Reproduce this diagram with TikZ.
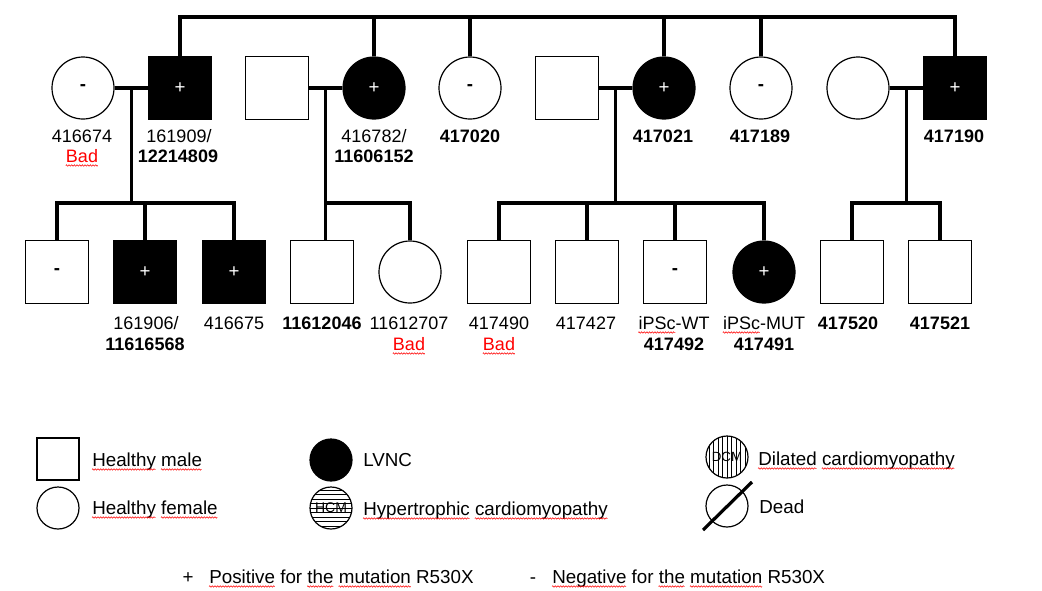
\documentclass[tikz,border=0pt]{standalone}
\usepackage{fontspec}
\setmainfont{Liberation Sans}
\usetikzlibrary{calc,decorations.pathmorphing}
\newcommand\labfont{\fontsize{13.5}{15}\selectfont}
\newcommand\legfont{\fontsize{14.1}{16}\selectfont}
\newsavebox\spbox
\newcommand\spellmark[1]{\sbox\spbox{#1}\usebox\spbox\llap{\tikz[baseline=2.6pt,x=1pt,y=1pt]\draw[red,line width=0.4pt,decorate,decoration={zigzag,segment length=2pt,amplitude=0.55pt}] (0,0) -- (\wd\spbox,0);}}
\begin{document}
\begin{tikzpicture}[x=0.75pt,y=-0.75pt,
 sym/.style={draw, line width=0.9pt, inner sep=0pt, font=\fontsize{14}{16}\selectfont},
 male/.style={sym, rectangle, minimum size=47.25pt},
 female/.style={sym, circle, minimum size=46.5pt},
 aff/.style={fill=black, text=white},
 lmale/.style={sym, rectangle, minimum size=31.5pt},
 lfemale/.style={sym, circle, minimum size=31.5pt},
 lab/.style={anchor=base, inner sep=0pt, font=\labfont},
 blab/.style={lab, font=\labfont\bfseries},
 bad/.style={lab, text=red},
 legtxt/.style={anchor=base west, inner sep=0pt, font=\legfont},
 legsign/.style={anchor=base, inner sep=0pt, font=\legfont},
 pline/.style={line width=2.6pt},
 hatch/.style={line width=0.6pt},
 ]
\useasboundingbox (0,0) rectangle (1042,590);
\coordinate (topy) at (0,17);
\coordinate (sy) at (0,203);
% top generation
\node[female] (a1) at (83,88) {\textbf{-}};
\node[male, aff] (a2) at (180,88) {+};
\node[male] (a3) at (277,88) {};
\node[female, aff] (a4) at (374,88) {+};
\node[female] (a5) at (470,88) {\textbf{-}};
\node[male] (a6) at (567,88) {};
\node[female, aff] (a7) at (664,88) {+};
\node[female] (a8) at (761,88) {\textbf{-}};
\node[female] (a9) at (858,88) {};
\node[male, aff] (a10) at (955,88) {+};
% bottom generation
\node[male] (b1) at (57,272) {\textbf{-}};
\node[male, aff] (b2) at (145,272) {+};
\node[male, aff] (b3) at (234,272) {+};
\node[male] (b4) at (322,272) {};
\node[female] (b5) at (410,272) {};
\node[male] (b6) at (499,272) {};
\node[male] (b7) at (587,272) {};
\node[male] (b8) at (675,272) {\textbf{-}};
\node[female, aff] (b9) at (764,272) {+};
\node[male] (b10) at (852,272) {};
\node[male] (b11) at (940,272) {};
% sibship of top generation
\draw[pline] (a2.north) |- (a10.north |- topy) -- (a10.north);
\foreach \n in {a4,a5,a7,a8} \draw[pline] (\n.north) -- (\n.north |- topy);
% couples
\draw[pline] (a1.east) -- (a2.west);
\draw[pline] (a3.east) -- (a4.west);
\draw[pline] (a6.east) -- (a7.west);
\draw[pline] (a9.east) -- (a10.west);
\coordinate (m1) at ($(a1.east)!0.5!(a2.west)$);
\coordinate (m2) at ($(a3.east)!0.5!(a4.west)$);
\coordinate (m3) at ($(a6.east)!0.5!(a7.west)$);
\coordinate (m4) at ($(a9.east)!0.5!(a10.west)$);
% family 1
\draw[pline] (m1) -- (m1 |- sy);
\draw[pline] (b1.north) |- (b3.north |- sy) -- (b3.north);
\draw[pline] (b2.north) -- (b2.north |- sy);
% family 2
\draw[pline] (m2) -- (m2 |- b4.north);
\draw[pline] (m2 |- sy) -| (b5.north);
% family 3
\draw[pline] (m3) -- (m3 |- sy);
\draw[pline] (b6.north) |- (b9.north |- sy) -- (b9.north);
\draw[pline] (b7.north) -- (b7.north |- sy);
\draw[pline] (b8.north) -- (b8.north |- sy);
% family 4
\draw[pline] (m4) -- (m4 |- sy);
\draw[pline] (b10.north) |- (b11.north |- sy) -- (b11.north);
% labels top
\node[lab] (la1) at (82,142) {416674};
\node[bad] (la1b) at (82,162) {\spellmark{Bad}};
\node[lab] (la2) at (179,142) {161909/};
\node[blab] (la2b) at (178,162) {12214809};
\node[lab] (la4) at (374,142) {416782/};
\node[blab] (la4b) at (374,162) {11606152};
\node[blab] (la5) at (470,142) {417020};
\node[blab] (la7) at (663,142) {417021};
\node[blab] (la8) at (760,142) {417189};
\node[blab] (la10) at (954,142) {417190};
% labels bottom
\node[lab] (lb2) at (146,329) {161906/};
\node[blab] (lb2b) at (145,350) {11616568};
\node[lab] (lb3) at (234,329) {416675};
\node[blab] (lb4) at (322,329) {11612046};
\node[lab] (lb5) at (409,329) {11612707};
\node[bad] (lb5b) at (409,350) {\spellmark{Bad}};
\node[lab] (lb6) at (499,329) {417490};
\node[bad] (lb6b) at (499,350) {\spellmark{Bad}};
\node[lab] (lb7) at (586,329) {417427};
\node[lab] (lb8) at (674,329) {\spellmark{iPSc}-WT};
\node[blab] (lb8b) at (674,350) {417492};
\node[lab] (lb9) at (764,329) {\spellmark{iPSc}-MUT};
\node[blab] (lb9b) at (764,350) {417491};
\node[blab] (lb10) at (848,329) {417520};
\node[blab] (lb11) at (940,329) {417521};
% legend
\node[lmale] (lgm) at (58,459) {};
\node[legtxt] (tgm) at (92,466) {\spellmark{Healthy} \spellmark{male}};
\node[lfemale] (lgf) at (58,508) {};
\node[legtxt] (tgf) at (92,514) {\spellmark{Healthy} \spellmark{female}};
\node[lfemale, aff] (lgl) at (331,460) {};
\node[legtxt] (tgl) at (363,466) {LVNC};
\node[lfemale] (lgh) at (331,508) {};
\begin{scope}
\clip (lgh.center) circle (15.75pt);
\foreach \yy in {-18,-13.5,...,18} \draw[hatch] ($(lgh.center)+(-25,\yy)$) -- ++(50,0);
\end{scope}
\node[inner sep=0pt, font=\fontsize{10.5}{12}\selectfont] (hcm) at (lgh.center) {HCM};
\node[legtxt] (tgh) at (363,515) {\spellmark{Hypertrophic} \spellmark{cardiomyopathy}};
\node[lfemale] (lgd) at (727,457) {};
\begin{scope}
\clip (lgd.center) circle (15.75pt);
\foreach \xx in {-18,-13.5,...,18} \draw[hatch] ($(lgd.center)+(\xx,-25)$) -- ++(0,50);
\end{scope}
\node[inner sep=0pt, font=\fontsize{10}{12}\selectfont] (dcm) at (lgd.center) {DCM};
\node[legtxt] (tgd) at (758,465) {\spellmark{Dilated} \spellmark{cardiomyopathy}};
\node[lfemale] (lgx) at (727,506) {};
\draw[line width=2.4pt] ($(lgx.center)+(-24,24)$) -- ($(lgx.center)+(25,-24)$);
\node[legtxt] (tgx) at (759,513) {Dead};
\node[legsign] (plus) at (188,583) {+};
\node[legtxt] (tplus) at (209,583) {\spellmark{Positive} for \spellmark{the} \spellmark{mutation} R530X};
\node[legsign] (minus) at (533,583) {-};
\node[legtxt] (tminus) at (552,583) {\spellmark{Negative} for \spellmark{the} \spellmark{mutation} R530X};
\end{tikzpicture}
\end{document}
